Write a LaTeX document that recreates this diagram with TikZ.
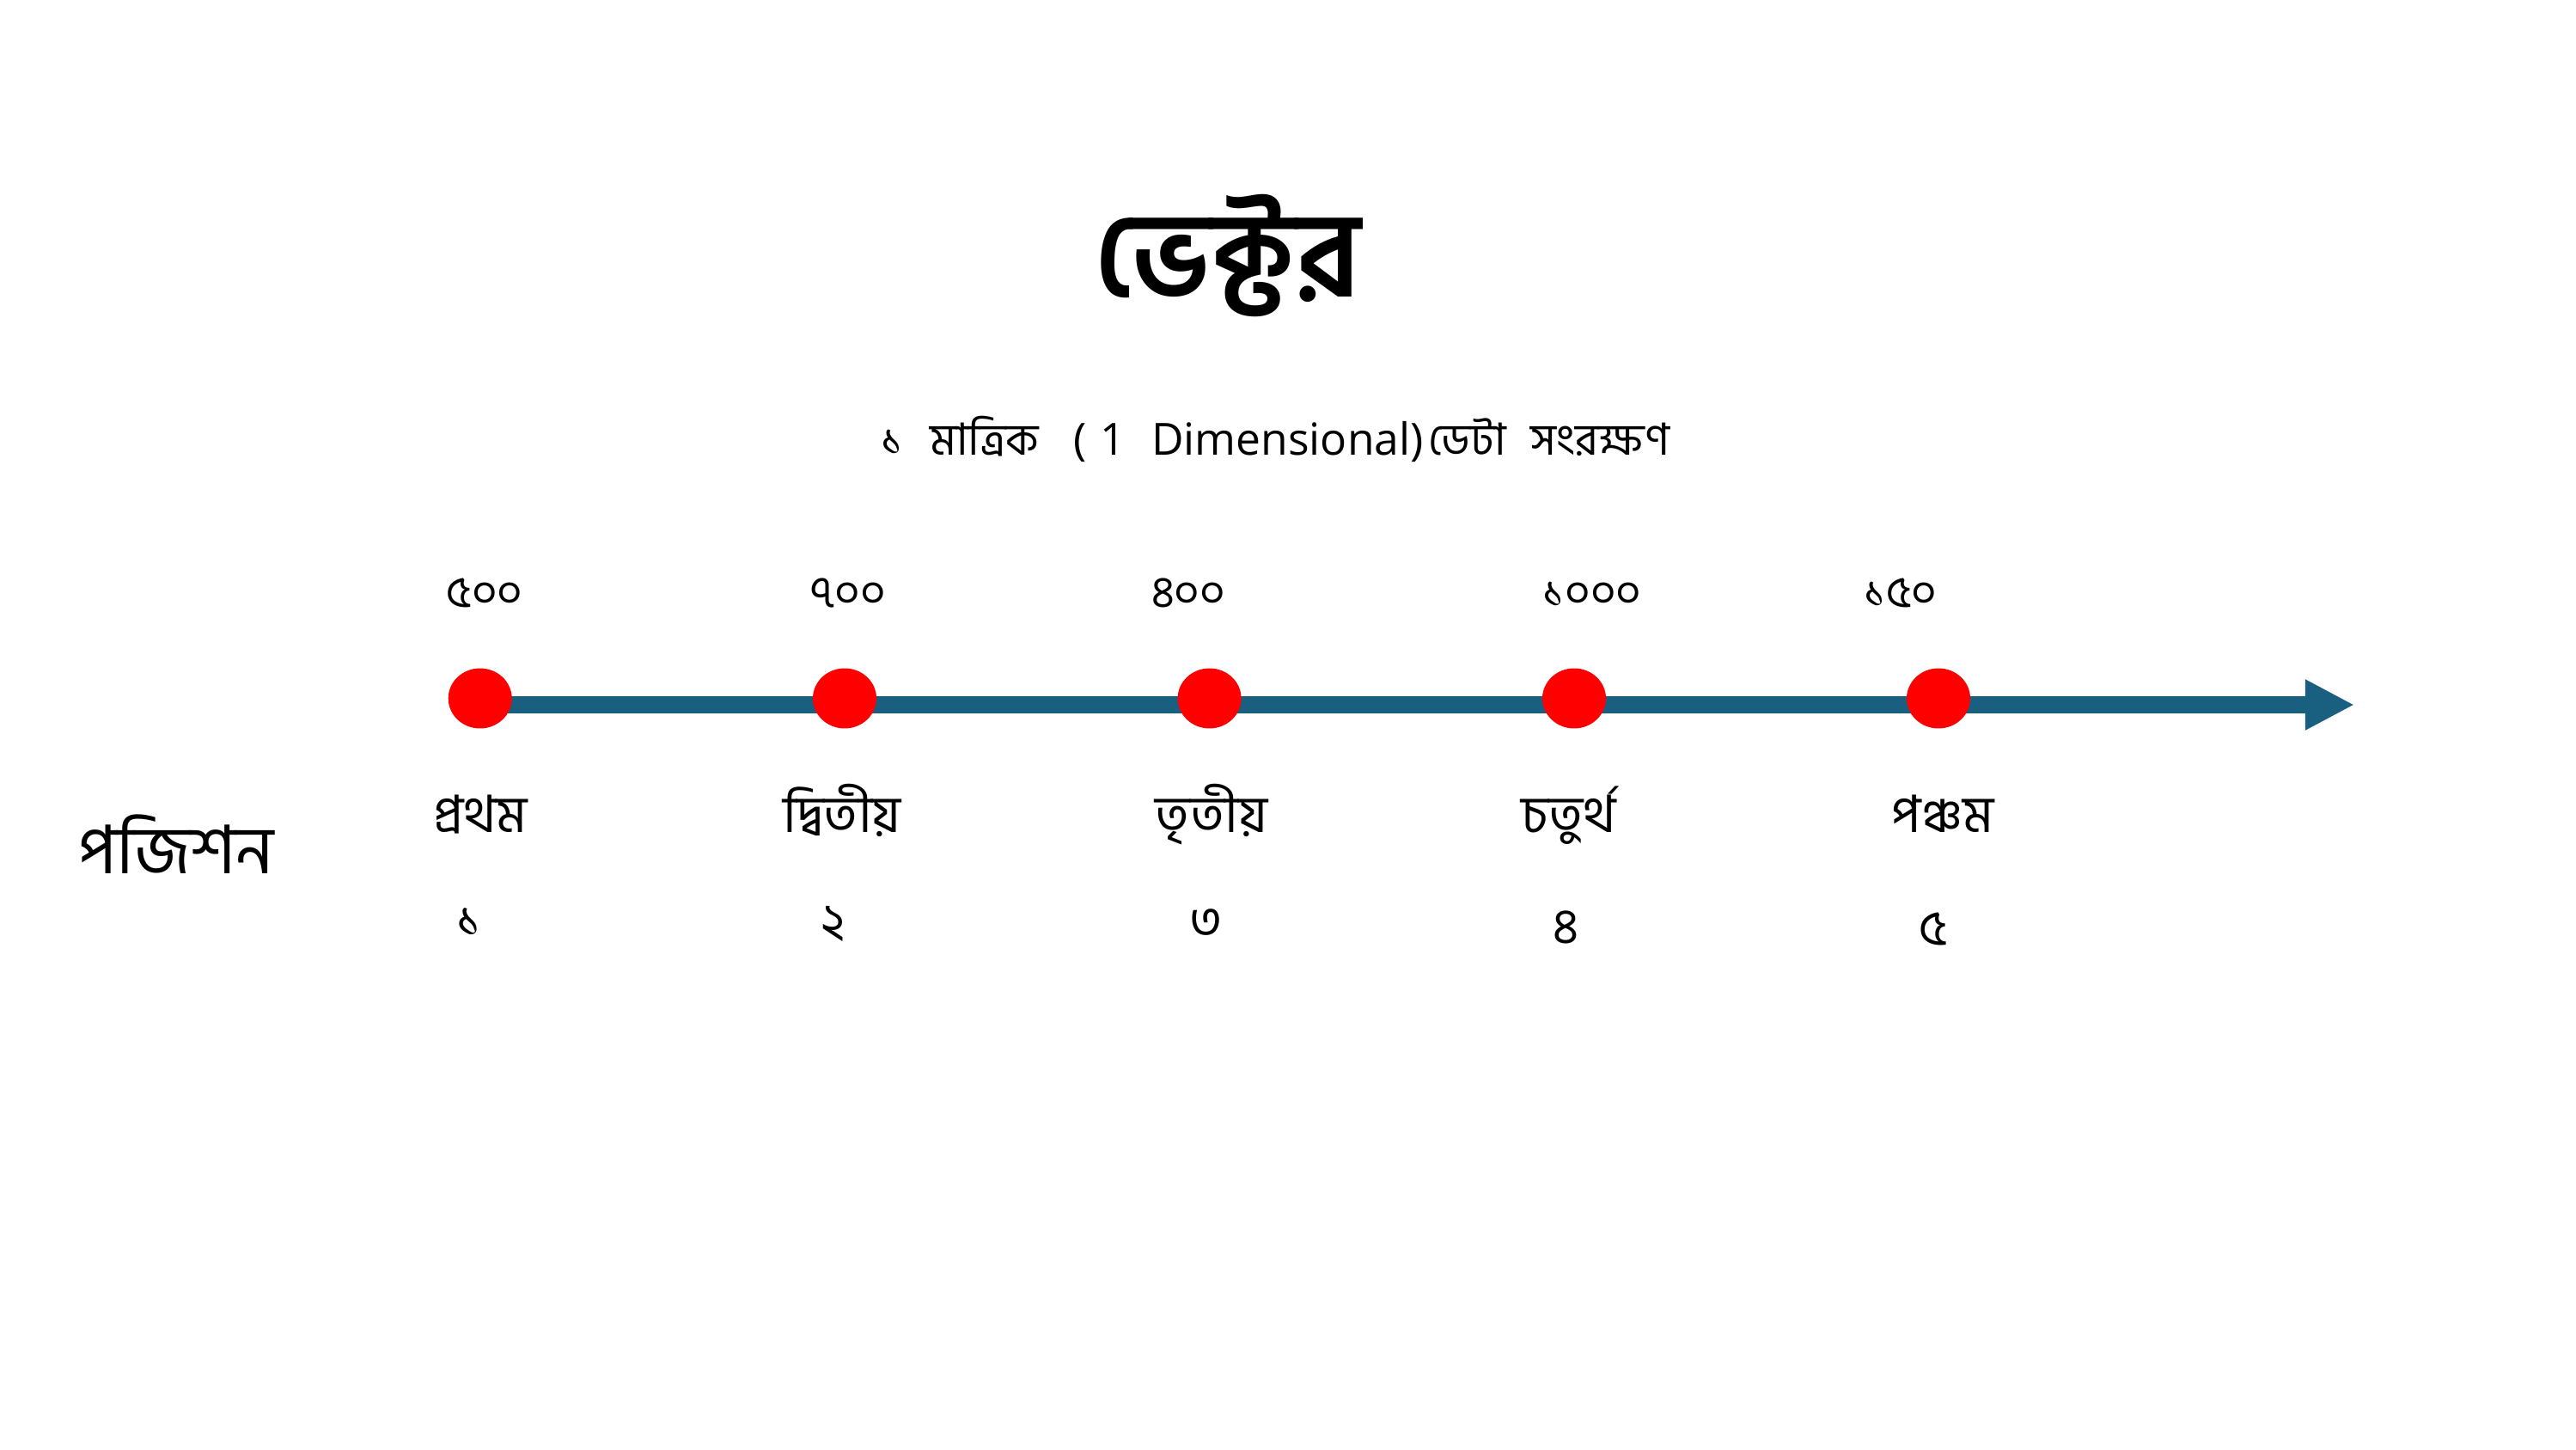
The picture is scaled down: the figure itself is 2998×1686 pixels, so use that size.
\documentclass[tikz,border=0pt]{standalone}
\usepackage{fontspec}
\newfontfamily\bn[Script=Bengali]{Hind Siliguri}
\newfontfamily\lat{Open Sans}
\usetikzlibrary{arrows.meta,shapes.geometric}
\definecolor{axisblue}{RGB}{24,95,128}
\definecolor{dotred}{RGB}{255,0,0}
\begin{document}
\begin{tikzpicture}[x=0.3202pt,y=-0.3202pt,
  dot/.style={ellipse,fill=dotred,minimum width=23.7pt,minimum height=22.4pt,inner sep=0pt},
  val/.style={anchor=base,font=\bn\fontsize{16.5}{18}\selectfont,inner sep=0pt},
  ord/.style={anchor=base,font=\bn\fontsize{19.2}{24}\selectfont,inner sep=0pt},
  idx/.style={anchor=base,font=\bn\fontsize{18.5}{22}\selectfont,inner sep=0pt},
  axis/.style={draw=axisblue,line width=6.1pt,-{Triangle[length=18.3pt,width=17.6pt]}}]
\useasboundingbox[fill=white] (0,0) rectangle (2998,1686);
\node[anchor=base,inner sep=0pt,font=\bn\bfseries\fontsize{44.5}{50}\selectfont] (title) at (1429,345) {ভেক্টর};
\node[anchor=base,inner sep=0pt,font=\bn\fontsize{16.5}{20}\selectfont] (sub) at (1484,529) {১\hspace{10pt}মাত্রিক\hspace{13pt}{\lat(\hspace{5pt}1\hspace{9.7pt}Dimensional)}\hspace{2pt}ডেটা\hspace{9.3pt}সংরক্ষণ};
\coordinate (s) at (558.7,820);
\coordinate (e) at (2740,820);
\draw[axis] (s) -- (e);
\node[dot] (d1) at (558.7,812.5) {};
\node[dot] (d2) at (983,812.5) {};
\node[dot] (d3) at (1407.6,812.5) {};
\node[dot] (d4) at (1832,812.5) {};
\node[dot] (d5) at (2256,812.5) {};
\node[val] (v1) at (564,706) {৫০০};
\node[val] (v2) at (987,706) {৭০০};
\node[val] (v3) at (1383,706) {৪০০};
\node[val] (v4) at (1853,706) {১০০০};
\node[val] (v5) at (2212,706) {১৫০};
\node[ord] (o1) at (559,968) {প্রথম};
\node[ord] (o2) at (980,968) {দ্বিতীয়};
\node[ord] (o3) at (1410,968) {তৃতীয়};
\node[ord] (o4) at (1826,968) {চতুর্থ};
\node[ord] (o5) at (2261,968) {পঞ্চম};
\node[idx] (i1) at (546,1089) {১};
\node[idx] (i2) at (970,1091) {২};
\node[idx] (i3) at (1404,1091) {৩};
\node[idx] (i4) at (1822,1097) {৪};
\node[idx] (i5) at (2250,1099) {৫};
\node[anchor=base,inner sep=0pt,font=\bn\fontsize{25}{30}\selectfont] (pos) at (205,1016) {পজিশন};
\end{tikzpicture}
\end{document}
